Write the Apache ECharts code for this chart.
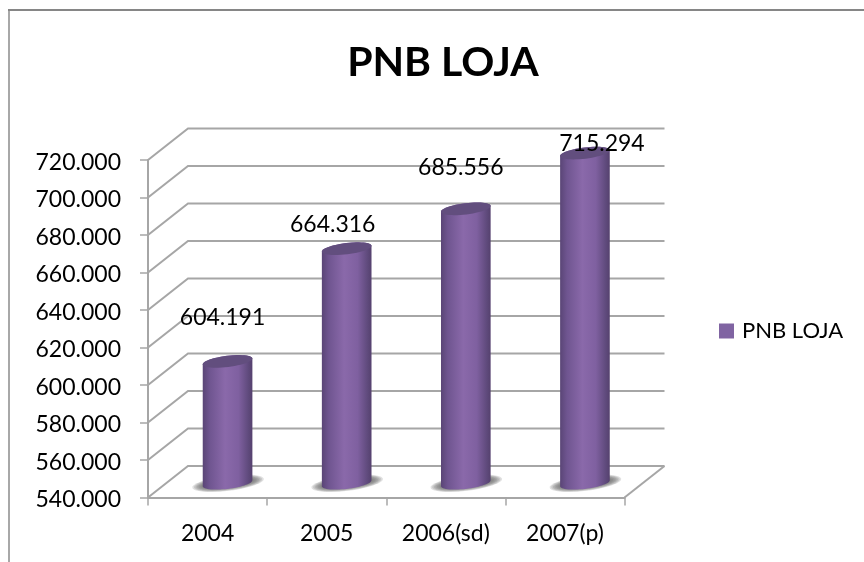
<!DOCTYPE html>
<html><head><meta charset="utf-8">
<style>html,body{margin:0;padding:0;background:#fff}#c{width:864px;height:562px}</style>
<script src="https://cdn.jsdelivr.net/npm/echarts@6/dist/echarts.min.js"></script>
</head><body><div id="c"></div>
<script>
const categories = ['2004', '2005', '2006(sd)', '2007(p)'];
const values = [604191, 664316, 685556, 715294];
const yTicks = [540000,560000,580000,600000,620000,640000,660000,680000,700000,720000];
const labelNudgeY = [-44, -24, -41, -9];
const labelNudgeX = [-5, -14, -5, 17];
const seriesName = 'PNB LOJA';
const titleText = 'PNB LOJA';

const FONT = 'Lato, Carlito, Calibri, sans-serif';
const DX = 40, DY = -31.5;
const RX = 25, RY = 5.6, TILT = -7 * Math.PI / 180;
const fmt = v => String(Math.round(v)).replace(/\B(?=(\d{3})+$)/g, '.');

function ell(cx, cy, rx, ry, from, to, n) {
  const pts = [];
  for (let i = 0; i <= n; i++) {
    const t = from + (to - from) * i / n;
    pts.push([
      cx + rx * Math.cos(t) * Math.cos(TILT) - ry * Math.sin(t) * Math.sin(TILT),
      cy + rx * Math.cos(t) * Math.sin(TILT) + ry * Math.sin(t) * Math.cos(TILT)
    ]);
  }
  return pts;
}

function wall(params, api) {
  const v = api.value(0);
  const y = api.coord([0, v])[1];
  const g = params.coordSys;
  const line = { stroke: '#a6a6a6', lineWidth: 2, fill: null };
  const pts = [[g.x, y], [g.x + DX, y + DY], [g.x + g.width + DX, y + DY]];
  const kids = [{ type: 'polyline', shape: { points: pts }, style: line, silent: true }];
  if (v === yTicks[0]) {
    kids.push({ type: 'polyline', shape: { points: [[g.x + g.width, y], [g.x + g.width + DX, y + DY]] }, style: line, silent: true });
  }
  return { type: 'group', children: kids };
}

function cylinder(params, api) {
  const i = api.value(0), v = api.value(1);
  const c = api.coord([i, v]);
  const base = api.coord([i, yTicks[0]]);
  const cx = c[0] + DX / 2;
  const topY = c[1] + DY / 2, botY = base[1] + DY / 2 + 1.5;
  const t0 = Math.atan2(-RY * Math.sin(TILT), RX * Math.cos(TILT));
  const lower = ell(cx, botY, RX, RY, t0, t0 + Math.PI, 30);
  const upper = ell(cx, topY, RX, RY, t0 + Math.PI, t0 + 2 * Math.PI, 30);
  const grad = new echarts.graphic.LinearGradient(0, 0, 1, 0, [
    { offset: 0, color: '#5a4576' },
    { offset: 0.14, color: '#6f5590' },
    { offset: 0.45, color: '#8a69aa' },
    { offset: 0.72, color: '#7f60a0' },
    { offset: 0.92, color: '#5f4a7c' },
    { offset: 1, color: '#55416e' }
  ]);
  const soft = [];
  for (let k = 0; k < 7; k++) {
    soft.push({ type: 'polygon', silent: true,
      shape: { points: ell(cx + 0.5, botY, 36 - k * 1.6, 7.6 - k * 0.5, 0, Math.PI * 2, 48) },
      style: { fill: 'rgba(105,105,105,0.2)' } });
  }
  return {
    type: 'group',
    children: soft.concat([
      { type: 'polygon', shape: { points: lower.concat(upper) }, style: { fill: grad } },
      { type: 'polygon', shape: { points: ell(cx, topY, RX, RY, 0, Math.PI * 2, 48) }, style: { fill: '#624e7e' } }
    ])
  };
}

function valueLabel(params, api) {
  const i = api.value(0), v = api.value(1);
  const c = api.coord([i, v]);
  return {
    type: 'text',
    x: c[0] + DX / 2 + labelNudgeX[i],
    y: c[1] + DY / 2 + labelNudgeY[i],
    style: { text: fmt(v), font: '23px ' + FONT, fill: '#000', align: 'center', verticalAlign: 'middle' },
    z2: 100, silent: true
  };
}

const chart = echarts.init(document.getElementById('c'), null, { renderer: 'canvas' });
chart.setOption({
  animation: false,
  backgroundColor: '#fff',
  title: { text: titleText, left: 438, top: 37, textAlign: 'center',
    textStyle: { fontFamily: FONT, fontSize: 41, fontWeight: 'bold', color: '#000' } },
  legend: { data: [seriesName], left: 714, top: 315, orient: 'vertical', icon: 'rect',
    itemWidth: 15, itemHeight: 15, itemGap: 8,
    textStyle: { fontFamily: FONT, fontSize: 22, color: '#000', padding: [0, 0, 0, 3] } },
  grid: { left: 148, top: 160, width: 476.5, height: 337.5, containLabel: false },
  xAxis: { type: 'category', data: categories,
    axisLine: { lineStyle: { color: '#a6a6a6', width: 2 } },
    axisTick: { show: true, length: 8, alignWithLabel: false, lineStyle: { color: '#a6a6a6', width: 1.5 } },
    axisLabel: { fontFamily: FONT, fontSize: 23, color: '#000', margin: 25, interval: 0 } },
  yAxis: { type: 'value', min: 540000, max: 720000, interval: 20000,
    axisLine: { show: true, lineStyle: { color: '#a6a6a6', width: 2 } },
    axisTick: { show: true, length: 8, lineStyle: { color: '#a6a6a6', width: 1.5 } },
    splitLine: { show: false },
    axisLabel: { color: '#000', margin: 27, formatter: v => '{a|' + fmt(v) + '}',
      rich: { a: { fontFamily: FONT, fontSize: 23, color: '#000', padding: [5, 0, 0, 0] } } } },
  graphic: [
    { type: 'line', silent: true, z: -1, shape: { x1: 9, y1: 562, x2: 9, y2: 10 }, style: { stroke: '#a8a8a8', lineWidth: 2 } },
    { type: 'line', silent: true, z: -1, shape: { x1: 8, y1: 10, x2: 864, y2: 10 }, style: { stroke: '#868686', lineWidth: 2 } }
  ],
  series: [
    { type: 'custom', name: 'walls', coordinateSystem: 'cartesian2d', renderItem: wall, z: 1, silent: true,
      encode: { y: 0 }, data: yTicks.map(v => [v]), tooltip: { show: false } },
    { type: 'custom', name: seriesName, coordinateSystem: 'cartesian2d', renderItem: cylinder, z: 2,
      itemStyle: { color: '#8064a2' }, encode: { x: 0, y: 1 },
      data: values.map((v, i) => [i, v]) },
    { type: 'custom', name: 'labels', coordinateSystem: 'cartesian2d', renderItem: valueLabel, z: 3, silent: true,
      encode: { x: 0, y: 1 }, data: values.map((v, i) => [i, v]) }
  ]
});
</script></body></html>
